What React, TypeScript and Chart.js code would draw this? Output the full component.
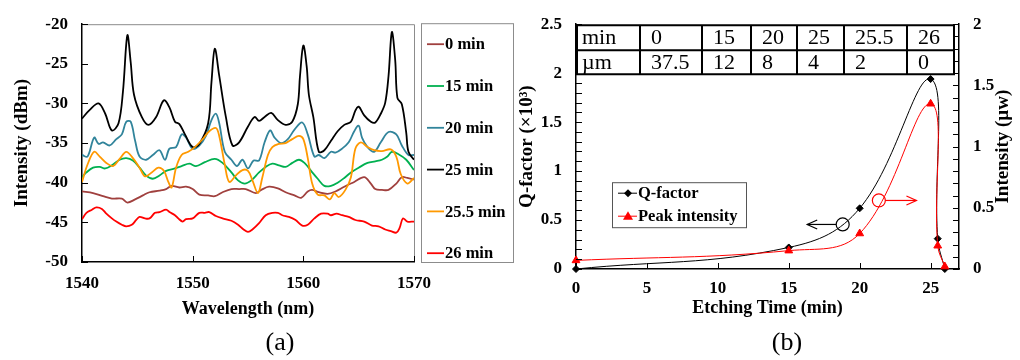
import React, { useEffect, useRef } from "react";
import { Chart, registerables } from "chart.js";

Chart.register(...registerables);

const FONT = "'Liberation Serif', 'Times New Roman', serif";

// ---------- Panel (a) data ----------
const WAVELENGTH_TICKS = [1540, 1550, 1560, 1570];
const DBM_TICKS = [-50, -45, -40, -35, -30, -25, -20];
const SPECTRUM_LABELS = ["0 min", "15 min", "20 min", "25 min", "25.5 min", "26 min"];
const SPECTRUM_COLORS = ["#A0403E", "#00B050", "#31849B", "#000000", "#FF9900", "#FF0000"];

const SPEC_0 = [
  [1540.0, -41.1], [1541.0, -41.3], [1541.9, -41.7], [1542.7, -42.0], [1543.6, -42.0], [1544.1, -42.5],
  [1544.8, -42.1], [1545.5, -41.6], [1546.1, -41.2], [1547.0, -41.0], [1547.6, -40.8], [1548.1, -40.4],
  [1548.8, -40.6], [1549.4, -40.5], [1550.0, -40.8], [1550.6, -41.5], [1551.4, -41.6], [1552.0, -41.7],
  [1552.7, -41.2], [1553.5, -40.8], [1554.2, -40.8], [1554.8, -40.8], [1555.7, -41.3], [1556.2, -40.9],
  [1556.9, -40.5], [1557.7, -40.7], [1558.4, -41.2], [1559.2, -41.6], [1559.8, -41.9], [1560.4, -41.1],
  [1560.8, -40.9], [1561.4, -41.2], [1562.2, -41.4], [1562.9, -41.1], [1563.7, -40.5], [1564.6, -39.9],
  [1565.5, -39.3], [1566.1, -40.1], [1566.5, -40.8], [1567.1, -40.9], [1567.7, -40.9], [1568.4, -40.1],
  [1568.9, -39.3], [1569.4, -39.4], [1570.0, -39.6],
];
const SPEC_15 = [
  [1540.0, -39.3], [1540.4, -38.7], [1541.0, -38.1], [1541.6, -38.0], [1542.1, -38.2], [1542.7, -37.8],
  [1543.4, -37.1], [1544.0, -36.9], [1544.6, -37.2], [1545.2, -38.1], [1545.8, -39.1], [1546.4, -39.5],
  [1547.0, -39.1], [1547.6, -38.5], [1548.4, -38.2], [1549.0, -37.9], [1549.7, -37.6], [1550.3, -37.9],
  [1551.1, -37.4], [1552.0, -37.0], [1552.7, -37.5], [1553.5, -38.7], [1554.1, -39.7], [1554.7, -40.1],
  [1555.3, -39.7], [1556.0, -38.7], [1556.6, -38.0], [1557.2, -37.6], [1557.8, -37.8], [1558.4, -38.0],
  [1559.0, -37.5], [1559.6, -37.1], [1560.1, -37.5], [1560.7, -38.5], [1561.3, -39.5], [1561.9, -40.4],
  [1562.5, -40.4], [1563.1, -40.0], [1563.7, -39.4], [1564.3, -38.7], [1565.0, -38.1], [1565.8, -37.5],
  [1566.5, -37.3], [1567.1, -37.1], [1567.6, -36.7], [1568.0, -36.1], [1568.6, -36.4], [1569.3, -37.1],
  [1570.0, -38.4],
];
const SPEC_20 = [
  [1540.0, -36.5], [1540.5, -36.7], [1541.1, -34.3], [1541.5, -35.1], [1541.9, -34.9], [1542.5, -35.3],
  [1543.1, -34.5], [1543.6, -33.9], [1544.0, -32.3], [1544.4, -32.3], [1544.8, -34.7], [1545.2, -36.7],
  [1545.8, -37.1], [1546.4, -36.5], [1547.0, -35.9], [1547.5, -37.1], [1547.9, -35.7], [1548.5, -35.5],
  [1549.0, -33.9], [1549.4, -34.3], [1550.0, -35.7], [1550.6, -35.3], [1551.2, -34.1], [1551.7, -32.1],
  [1552.1, -31.3], [1552.4, -32.5], [1552.9, -36.1], [1553.5, -37.1], [1554.0, -37.9], [1554.5, -37.1],
  [1555.0, -38.2], [1555.5, -37.2], [1556.0, -37.2], [1556.5, -34.9], [1557.0, -33.4], [1557.4, -34.3],
  [1558.0, -35.0], [1558.6, -34.5], [1559.2, -33.3], [1559.9, -32.4], [1560.4, -33.9], [1561.0, -36.7],
  [1561.4, -36.5], [1561.9, -36.9], [1562.5, -36.1], [1562.9, -36.2], [1563.5, -35.7], [1564.1, -34.9],
  [1564.6, -33.5], [1565.0, -32.8], [1565.3, -34.3], [1565.8, -35.5], [1566.4, -36.1], [1567.0, -34.9],
  [1567.7, -33.6], [1568.4, -33.9], [1568.9, -35.3], [1569.5, -36.5], [1570.0, -36.5],
];
const SPEC_25 = [
  [1540.0, -31.9], [1540.7, -30.8], [1541.5, -30.0], [1542.1, -31.3], [1542.7, -33.4], [1543.3, -32.5],
  [1543.7, -28.5], [1544.1, -21.4], [1544.4, -24.8], [1544.7, -28.9], [1545.4, -31.7], [1546.0, -32.7],
  [1546.7, -31.7], [1547.4, -29.6], [1547.9, -30.5], [1548.4, -32.3], [1548.8, -32.6], [1549.3, -33.9],
  [1550.0, -35.5], [1550.6, -35.1], [1551.4, -32.5], [1551.7, -27.3], [1552.0, -23.1], [1552.4, -26.5],
  [1553.0, -31.7], [1553.6, -35.3], [1554.2, -34.9], [1555.0, -32.9], [1555.6, -31.7], [1556.0, -32.2],
  [1556.5, -31.7], [1557.1, -31.2], [1557.7, -32.1], [1558.4, -32.7], [1559.0, -32.3], [1559.5, -30.1],
  [1559.7, -26.5], [1560.0, -22.7], [1560.3, -25.3], [1560.5, -28.9], [1560.9, -31.7], [1561.4, -36.1],
  [1561.9, -35.9], [1562.5, -34.7], [1563.1, -33.5], [1563.7, -32.7], [1564.3, -32.3], [1564.7, -30.9],
  [1565.0, -30.4], [1565.5, -31.5], [1566.1, -32.3], [1566.5, -32.4], [1567.0, -31.3], [1567.4, -29.9],
  [1567.7, -26.5], [1568.0, -21.0], [1568.3, -24.5], [1568.5, -29.3], [1568.9, -30.1], [1569.3, -33.7],
  [1569.5, -36.1], [1570.0, -37.1],
];
const SPEC_25_5 = [
  [1540.0, -39.9], [1540.5, -37.7], [1541.1, -36.1], [1541.6, -36.7], [1542.2, -37.5], [1542.8, -37.9],
  [1543.4, -37.0], [1544.0, -36.1], [1544.6, -36.9], [1545.2, -38.1], [1545.7, -39.2], [1546.3, -38.7],
  [1546.9, -38.1], [1547.4, -38.5], [1547.8, -39.9], [1548.1, -40.6], [1548.5, -38.1], [1549.0, -36.5],
  [1549.6, -36.1], [1550.2, -35.5], [1550.9, -34.5], [1551.5, -33.5], [1552.1, -33.1], [1552.4, -34.1],
  [1552.9, -37.7], [1553.3, -39.9], [1553.9, -39.1], [1554.5, -38.4], [1555.0, -38.5], [1555.4, -39.7],
  [1555.9, -41.3], [1556.3, -39.3], [1556.8, -36.5], [1557.2, -35.5], [1557.8, -35.1], [1558.4, -35.0],
  [1559.0, -34.5], [1559.6, -34.1], [1560.0, -34.5], [1560.4, -36.9], [1560.8, -40.1], [1561.3, -41.5],
  [1561.9, -41.6], [1562.4, -42.1], [1562.8, -41.3], [1563.2, -41.8], [1563.8, -40.9], [1564.3, -39.3],
  [1564.7, -35.7], [1565.2, -34.9], [1565.8, -35.5], [1566.4, -35.9], [1567.1, -36.0], [1567.9, -35.8],
  [1568.4, -36.7], [1568.8, -38.9], [1569.4, -40.1], [1570.0, -39.4],
];
const SPEC_26 = [
  [1540.0, -44.6], [1540.4, -43.8], [1540.9, -43.4], [1541.3, -43.1], [1541.8, -43.3], [1542.2, -43.9],
  [1542.7, -44.5], [1543.1, -44.9], [1543.6, -45.3], [1544.0, -45.5], [1544.5, -45.3], [1544.9, -44.7],
  [1545.2, -44.3], [1545.7, -44.5], [1546.1, -44.5], [1546.6, -43.8], [1547.0, -43.7], [1547.6, -43.4],
  [1547.9, -43.7], [1548.4, -44.1], [1548.7, -44.5], [1549.1, -44.9], [1549.4, -44.6], [1550.0, -44.5],
  [1550.6, -43.8], [1551.1, -43.8], [1551.5, -43.7], [1552.1, -44.2], [1552.7, -44.5], [1553.5, -44.8],
  [1554.1, -45.3], [1554.6, -45.9], [1555.0, -46.2], [1555.4, -45.9], [1556.0, -45.1], [1556.6, -44.1],
  [1557.2, -43.8], [1557.7, -43.8], [1558.1, -44.1], [1558.7, -44.3], [1559.3, -44.7], [1559.9, -45.4],
  [1560.4, -45.3], [1561.0, -44.5], [1561.6, -43.9], [1562.2, -43.9], [1562.5, -44.1], [1563.0, -43.9],
  [1563.5, -44.1], [1564.1, -44.3], [1564.7, -44.7], [1565.5, -44.9], [1566.2, -45.4], [1566.8, -45.5],
  [1567.4, -45.9], [1567.9, -46.1], [1568.4, -46.3], [1568.7, -45.7], [1569.0, -44.5], [1569.4, -44.9],
  [1570.0, -44.9],
];
const SPECTRA = [SPEC_0, SPEC_15, SPEC_20, SPEC_25, SPEC_25_5, SPEC_26];

// ---------- Panel (b) data ----------
const ETCH_TIME = [0, 15, 20, 25, 25.5, 26];
const Q_FACTOR = [0, 0.22, 0.62, 1.94, 0.31, 0];
const PEAK_INTENSITY = [0.07, 0.15, 0.29, 1.35, 0.19, 0.02];
const TIME_TICKS = [0, 5, 10, 15, 20, 25];
const Q_TICKS = [0, 0.5, 1, 1.5, 2, 2.5];
const INTENSITY_TICKS = [0, 0.5, 1, 1.5, 2];
const TABLE_ROW_MIN = ["min", "0", "15", "20", "25", "25.5", "26"];
const TABLE_ROW_UM = ["µm", "37.5", "12", "8", "4", "2", "0"];
const Q_ANNOT = { x: 18.8, y: 0.455, arrowTo: 16.3 };
const I_ANNOT = { x: 21.35, y: 0.56, arrowTo: 24.0 };

const bold = (size: number) => ({ family: FONT, size, weight: "bold" as const });
const plainLabel = (v: any) => String(v);

function setTicks(values: number[]) {
  return (scale: any) => {
    scale.ticks = values.map((v) => ({ value: v }));
  };
}

function drawArrow(ctx: CanvasRenderingContext2D, x1: number, y: number, x2: number, color: string) {
  ctx.strokeStyle = color;
  ctx.lineWidth = 1.2;
  ctx.beginPath();
  ctx.moveTo(x1, y);
  ctx.lineTo(x2, y);
  ctx.stroke();
  const dir = Math.sign(x2 - x1);
  ctx.beginPath();
  ctx.moveTo(x2 - dir * 10, y - 4.5);
  ctx.lineTo(x2, y);
  ctx.lineTo(x2 - dir * 10, y + 4.5);
  ctx.stroke();
}

const panelAPlugin = {
  id: "panelA",
  afterDraw(chart: any) {
    const { ctx, chartArea } = chart;
    const { left, right, top, bottom } = chartArea;
    const xs = chart.scales.x;
    const ys = chart.scales.y;
    ctx.save();
    ctx.strokeStyle = "#8c8c8c";
    ctx.lineWidth = 1;
    ctx.beginPath();
    ctx.moveTo(left, top + 0.5);
    ctx.lineTo(right + 0.5, top + 0.5);
    ctx.lineTo(right + 0.5, bottom);
    ctx.stroke();
    ctx.strokeStyle = "#000";
    ctx.lineWidth = 1;
    ctx.beginPath();
    xs.ticks.forEach((t: any) => {
      const px = Math.round(xs.getPixelForValue(t.value)) + 0.5;
      ctx.moveTo(px, bottom);
      ctx.lineTo(px, bottom - 6);
    });
    ys.ticks.forEach((t: any) => {
      const py = Math.round(ys.getPixelForValue(t.value)) + 0.5;
      ctx.moveTo(left, py);
      ctx.lineTo(left + 6, py);
    });
    ctx.stroke();
    const bl = right + 7;
    const br = right + 99;
    const bt = top - 1;
    const bb = bottom;
    ctx.strokeStyle = "#8c8c8c";
    ctx.lineWidth = 1;
    ctx.strokeRect(bl + 0.5, bt + 0.5, br - bl, bb - bt);
    ctx.font = `bold 16.5px ${FONT}`;
    ctx.textBaseline = "middle";
    ctx.textAlign = "left";
    SPECTRUM_LABELS.forEach((lab, i) => {
      const y = top + 20 + i * 41.8;
      ctx.strokeStyle = SPECTRUM_COLORS[i];
      ctx.lineWidth = 1.8;
      ctx.beginPath();
      ctx.moveTo(bl + 6, y);
      ctx.lineTo(bl + 23, y);
      ctx.stroke();
      ctx.fillStyle = "#000";
      ctx.fillText(lab, bl + 24, y + 1);
    });
    ctx.restore();
  },
};

const panelBPlugin = {
  id: "panelB",
  afterDraw(chart: any) {
    const { ctx, chartArea } = chart;
    const { left, right, top, bottom } = chartArea;
    const xs = chart.scales.x;
    const yl = chart.scales.y;
    const yr = chart.scales.y1;
    ctx.save();
    ctx.strokeStyle = "#000";
    ctx.lineWidth = 1;
    ctx.beginPath();
    xs.ticks.forEach((t: any) => {
      const px = Math.round(xs.getPixelForValue(t.value)) + 0.5;
      ctx.moveTo(px, bottom);
      ctx.lineTo(px, bottom - 6);
    });
    for (let v = 0; v <= 25.0001; v += 1) {
      const py = Math.round(yl.getPixelForValue(v / 10)) + 0.5;
      ctx.moveTo(left, py);
      ctx.lineTo(left + 6, py);
    }
    for (let v = 0; v <= 20.0001; v += 1) {
      const py = Math.round(yr.getPixelForValue(v / 10)) + 0.5;
      ctx.moveTo(right, py);
      ctx.lineTo(right - 6, py);
    }
    ctx.stroke();

    // table
    const cols = [1, 64, 126, 175, 221, 268, 331, 378].map((c) => left + c);
    const rows = [1, 26, 50].map((r) => top + r);
    ctx.fillStyle = "#fff";
    ctx.fillRect(cols[0], rows[0], cols[7] - cols[0], rows[2] - rows[0]);
    ctx.strokeStyle = "#000";
    ctx.lineWidth = 2;
    ctx.beginPath();
    rows.forEach((r) => {
      ctx.moveTo(cols[0], r);
      ctx.lineTo(cols[7], r);
    });
    cols.forEach((c) => {
      ctx.moveTo(c, rows[0] - 1);
      ctx.lineTo(c, rows[2] + 1);
    });
    ctx.stroke();
    ctx.fillStyle = "#000";
    ctx.font = `22px ${FONT}`;
    ctx.textBaseline = "middle";
    ctx.textAlign = "left";
    [TABLE_ROW_MIN, TABLE_ROW_UM].forEach((row, ri) => {
      row.forEach((txt, ci) => {
        const pad = ci === 0 ? 5 : 11;
        ctx.fillText(txt, cols[ci] + pad, (rows[ri] + rows[ri + 1]) / 2 + 1);
      });
    });

    // legend
    const lx = left + 36;
    const lt = top + 158;
    ctx.strokeStyle = "#555";
    ctx.lineWidth = 1;
    ctx.fillStyle = "#fff";
    ctx.fillRect(lx, lt, 134, 45);
    ctx.strokeRect(lx + 0.5, lt + 0.5, 134, 45);
    const items = [
      { label: "Q-factor", color: "#000", style: "rectRot" },
      { label: "Peak intensity", color: "#FF0000", style: "triangle" },
    ];
    items.forEach((it, i) => {
      const y = lt + 11 + i * 23;
      ctx.strokeStyle = it.color;
      ctx.lineWidth = 1;
      ctx.beginPath();
      ctx.moveTo(lx + 6, y);
      ctx.lineTo(lx + 25, y);
      ctx.stroke();
      ctx.fillStyle = it.color;
      ctx.beginPath();
      if (it.style === "rectRot") {
        ctx.moveTo(lx + 16, y - 4);
        ctx.lineTo(lx + 20, y);
        ctx.lineTo(lx + 16, y + 4);
        ctx.lineTo(lx + 12, y);
      } else {
        ctx.moveTo(lx + 16, y - 5);
        ctx.lineTo(lx + 21, y + 3.5);
        ctx.lineTo(lx + 11, y + 3.5);
      }
      ctx.closePath();
      ctx.fill();
      ctx.fillStyle = "#000";
      ctx.font = `bold 16.5px ${FONT}`;
      ctx.fillText(it.label, lx + 26, y + 1);
    });

    // annotations
    const qx = xs.getPixelForValue(Q_ANNOT.x);
    const qy = yl.getPixelForValue(Q_ANNOT.y);
    ctx.strokeStyle = "#000";
    ctx.lineWidth = 1.2;
    ctx.beginPath();
    ctx.arc(qx, qy, 6.5, 0, Math.PI * 2);
    ctx.stroke();
    drawArrow(ctx, qx - 6.5, qy, xs.getPixelForValue(Q_ANNOT.arrowTo), "#000");
    const ix = xs.getPixelForValue(I_ANNOT.x);
    const iy = yr.getPixelForValue(I_ANNOT.y);
    ctx.strokeStyle = "#FF0000";
    ctx.beginPath();
    ctx.arc(ix, iy, 6.5, 0, Math.PI * 2);
    ctx.stroke();
    drawArrow(ctx, ix + 6.5, iy, xs.getPixelForValue(I_ANNOT.arrowTo), "#FF0000");

    // right axis title (reads bottom-to-top)
    ctx.save();
    ctx.translate(yr.right - 17, (top + bottom) / 2);
    ctx.rotate(-Math.PI / 2);
    ctx.fillStyle = "#000";
    ctx.font = `bold 19px ${FONT}`;
    ctx.textAlign = "center";
    ctx.textBaseline = "middle";
    ctx.fillText("Intensity (µw)", 0, 0);
    ctx.restore();

    ctx.restore();
  },
};

export default function App() {
  const refA = useRef<HTMLCanvasElement>(null);
  const refB = useRef<HTMLCanvasElement>(null);

  useEffect(() => {
    const chartA = new Chart(refA.current as HTMLCanvasElement, {
      type: "line",
      data: {
        datasets: SPECTRA.map((s, i) => ({
          label: SPECTRUM_LABELS[i],
          data: s.map(([x, y]) => ({ x, y })),
          borderColor: SPECTRUM_COLORS[i],
          borderWidth: 1.8,
          pointRadius: 0,
          tension: 0.35,
          fill: false,
          order: -i,
        })),
      },
      options: {
        animation: false,
        responsive: false,
        layout: { padding: { top: 13, right: 106, left: 0, bottom: 0 } },
        plugins: { legend: { display: false }, tooltip: { enabled: false } },
        scales: {
          x: {
            type: "linear",
            min: 1540,
            max: 1570,
            afterBuildTicks: setTicks(WAVELENGTH_TICKS),
            afterFit: (s: any) => {
              s.height = 98;
            },
            grid: { display: false, drawTicks: false },
            border: { color: "#000", width: 1.5 },
            ticks: { font: bold(17), color: "#000", padding: 11, maxRotation: 0, autoSkip: false, callback: plainLabel },
            title: {
              display: true,
              text: "Wavelength (nm)",
              font: bold(18),
              color: "#000",
              padding: { top: 0, bottom: 40 },
            },
          },
          y: {
            type: "linear",
            min: -50,
            max: -20,
            afterBuildTicks: setTicks(DBM_TICKS),
            afterFit: (s: any) => {
              s.width = 82;
            },
            grid: { display: false, drawTicks: false },
            border: { color: "#000", width: 1.5 },
            ticks: { font: bold(17), color: "#000", padding: 14, autoSkip: false, callback: plainLabel },
            title: {
              display: true,
              text: "Intensity (dBm)",
              font: bold(19),
              color: "#000",
              padding: { top: 11, bottom: 0 },
            },
          },
        },
      },
      plugins: [panelAPlugin],
    } as any);

    const chartB = new Chart(refB.current as HTMLCanvasElement, {
      type: "line",
      data: {
        datasets: [
          {
            label: "Q-factor",
            data: ETCH_TIME.map((t, i) => ({ x: t, y: Q_FACTOR[i] })),
            yAxisID: "y",
            borderColor: "#000",
            backgroundColor: "#000",
            borderWidth: 1,
            pointStyle: "rectRot",
            pointRadius: 3.5,
            tension: 0.4,
            clip: false,
            order: 2,
          },
          {
            label: "Peak intensity",
            data: ETCH_TIME.map((t, i) => ({ x: t, y: PEAK_INTENSITY[i] })),
            yAxisID: "y1",
            borderColor: "#FF0000",
            backgroundColor: "#FF0000",
            borderWidth: 1,
            pointStyle: "triangle",
            pointRadius: 4.5,
            tension: 0.4,
            clip: false,
            order: 1,
          },
        ],
      },
      options: {
        animation: false,
        responsive: false,
        layout: { padding: { top: 16, right: 0, left: 0, bottom: 0 } },
        plugins: { legend: { display: false }, tooltip: { enabled: false } },
        scales: {
          x: {
            type: "linear",
            min: 0,
            max: 27,
            afterBuildTicks: setTicks(TIME_TICKS),
            afterFit: (s: any) => {
              s.height = 91;
            },
            grid: { display: false, drawTicks: false },
            border: { color: "#000", width: 1.5 },
            ticks: { font: bold(17), color: "#000", padding: 9, maxRotation: 0, autoSkip: false, callback: plainLabel },
            title: {
              display: true,
              text: "Etching Time (min)",
              font: bold(18),
              color: "#000",
              padding: { top: 0, bottom: 41 },
            },
          },
          y: {
            type: "linear",
            position: "left",
            min: 0,
            max: 2.5,
            afterBuildTicks: setTicks(Q_TICKS),
            afterFit: (s: any) => {
              s.width = 61;
            },
            grid: { display: false, drawTicks: false },
            border: { color: "#000", width: 1.5 },
            ticks: { font: bold(17), color: "#000", padding: 14, autoSkip: false, callback: plainLabel },
            title: {
              display: true,
              text: "Q-factor (×10³)",
              font: bold(19),
              color: "#000",
              padding: { top: 1, bottom: 0 },
            },
          },
          y1: {
            type: "linear",
            position: "right",
            min: 0,
            max: 2,
            afterBuildTicks: setTicks(INTENSITY_TICKS),
            afterFit: (s: any) => {
              s.width = 61;
            },
            grid: { display: false, drawTicks: false },
            border: { color: "#000", width: 1.5 },
            ticks: { font: bold(17), color: "#000", padding: 14, autoSkip: false, callback: plainLabel },
            title: { display: false },
          },
        },
      },
      plugins: [panelBPlugin],
    } as any);

    return () => {
      chartA.destroy();
      chartB.destroy();
    };
  }, []);

  const labelStyle: React.CSSProperties = {
    position: "absolute",
    top: 327,
    width: 100,
    textAlign: "center",
    fontFamily: FONT,
    fontSize: 26,
    lineHeight: "30px",
    color: "#000",
  };

  return (
    <div style={{ position: "absolute", left: 0, top: 0, width: 1020, height: 360, background: "#fff", overflow: "hidden" }}>
      <canvas ref={refA} width={520} height={360} style={{ position: "absolute", left: 0, top: 0 }} />
      <canvas ref={refB} width={505} height={360} style={{ position: "absolute", left: 515, top: 0 }} />
      <div style={{ ...labelStyle, left: 230 }}>(a)</div>
      <div style={{ ...labelStyle, left: 737 }}>(b)</div>
    </div>
  );
}
